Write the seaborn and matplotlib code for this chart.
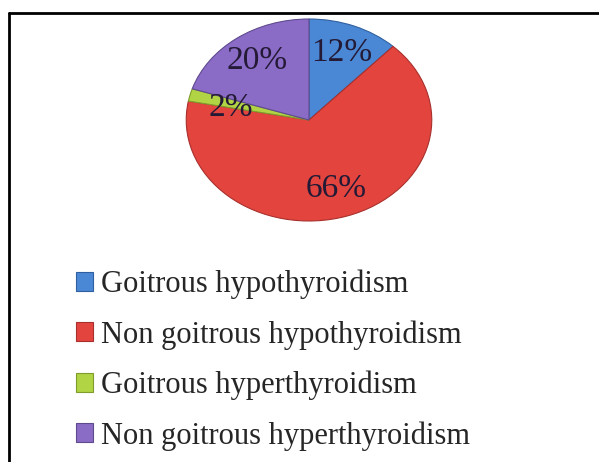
import matplotlib
matplotlib.use("Agg")
import matplotlib.pyplot as plt
import seaborn as sns
from matplotlib.lines import Line2D
from matplotlib.patches import Patch

# thyroid disorder split (%)
categories = ["Goitrous hypothyroidism", "Non goitrous hypothyroidism",
              "Goitrous hyperthyroidism", "Non goitrous hyperthyroidism"]
shares = [12, 66, 2, 20]
slice_colors = ["#4a88d6", "#e4443e", "#b0d444", "#8a6bc6"]
edge_colors = ["#2f5f9e", "#a8302c", "#7f9c2c", "#5f4a8e"]

sns.set_theme(style="white")
plt.rcParams["font.family"] = ["Liberation Serif", "DejaVu Serif"]

fig = plt.figure(figsize=(5.99, 4.62), dpi=100)

# the pie in the reference is squashed into an ellipse, so the axes is not square
ax = fig.add_axes([185 / 599, 1 - 222 / 462, 248 / 599, 204 / 462])
wedges, texts, autotexts = ax.pie(
    shares,
    colors=slice_colors,
    startangle=90,
    counterclock=False,
    autopct="%d%%",
    pctdistance=0.72,
    wedgeprops=dict(linewidth=0.8),
    textprops=dict(fontsize=24, color="#241a36"),
)
for w, ec in zip(wedges, edge_colors):
    w.set_edgecolor(ec)
autotexts[2].set_position((-0.64, 0.12))
ax.set_aspect("auto")
ax.set_xlim(-1.01, 1.01)
ax.set_ylim(-1.01, 1.01)
ax.axis("off")

handles = [Patch(facecolor=c, edgecolor=e, linewidth=0.8) for c, e in zip(slice_colors, edge_colors)]
fig.legend(
    handles, categories,
    loc="upper left",
    bbox_to_anchor=(48 / 599, 1 - 242 / 462),
    frameon=False,
    fontsize=22,
    handlelength=0.58,
    handleheight=0.58,
    handletextpad=0.25,
    labelspacing=0.69,
)

# frame of the original screenshot: only top and left edges are visible
fig.add_artist(Line2D([9 / 599, 1.0], [1 - 13 / 462, 1 - 13 / 462], color="black", lw=2))
fig.add_artist(Line2D([9 / 599, 9 / 599], [0.0, 1 - 13 / 462], color="black", lw=2))

fig.savefig("out.png", dpi=100)
